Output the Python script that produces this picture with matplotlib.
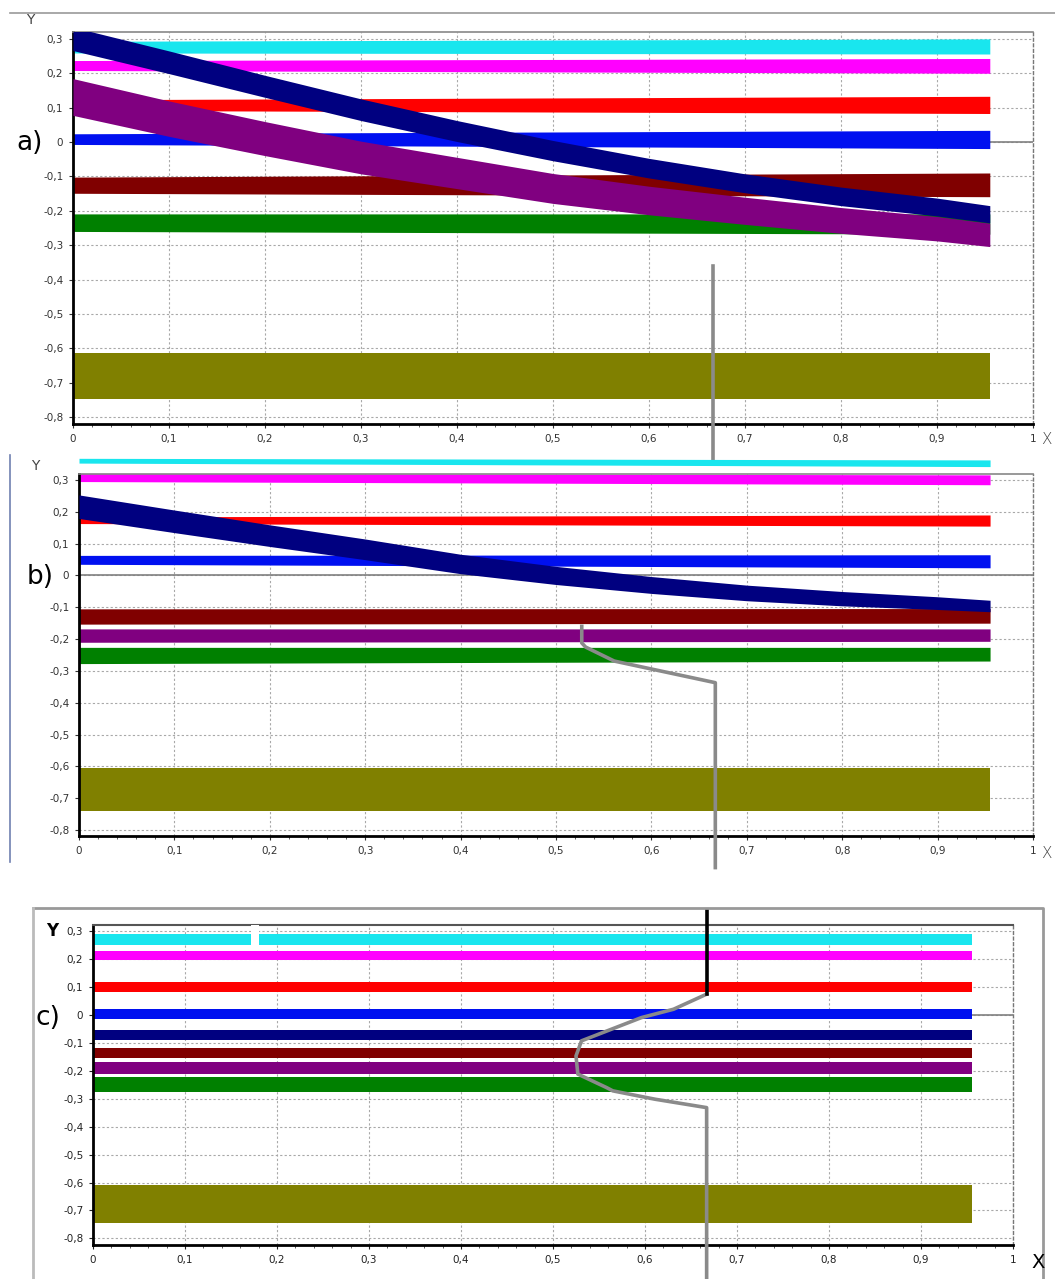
import numpy as np
import matplotlib
matplotlib.use("Agg")
import matplotlib.pyplot as plt
from matplotlib.ticker import MultipleLocator, FuncFormatter
from matplotlib.lines import Line2D

W, H = 1055, 1279

# ------------------------------------------------------------
# Data
# ------------------------------------------------------------
colors = {
    "cyan": "#19e6ee", "magenta": "#ff00ff", "red": "#ff0000", "blue": "#0010f0",
    "maroon": "#800000", "green": "#008000", "purple": "#800080",
    "navy": "#000080", "olive": "#808000",
}
band_end = 0.955

# horizontal bands: (colour, low_left, high_left, low_right, high_right)
bands_a = [
    ("cyan", 0.259, 0.293, 0.256, 0.300),
    ("magenta", 0.208, 0.237, 0.200, 0.243),
    ("red", 0.092, 0.123, 0.083, 0.133),
    ("blue", -0.007, 0.024, -0.019, 0.034),
    ("maroon", -0.149, -0.102, -0.159, -0.090),
    ("green", -0.260, -0.209, -0.268, -0.209),
    ("olive", -0.747, -0.613, -0.747, -0.613),
]
bands_b = [
    ("cyan", 0.353, 0.368, 0.342, 0.363),
    ("magenta", 0.295, 0.321, 0.285, 0.316),
    ("red", 0.163, 0.184, 0.155, 0.190),
    ("blue", 0.035, 0.063, 0.024, 0.065),
    ("maroon", -0.153, -0.105, -0.150, -0.104),
    ("purple", -0.210, -0.168, -0.207, -0.168),
    ("green", -0.277, -0.226, -0.269, -0.226),
    ("olive", -0.739, -0.606, -0.739, -0.606),
]
bands_c = [
    ("cyan", 0.251, 0.288, 0.251, 0.288),
    ("magenta", 0.197, 0.230, 0.197, 0.230),
    ("red", 0.080, 0.118, 0.080, 0.118),
    ("blue", -0.016, 0.020, -0.016, 0.020),
    ("navy", -0.091, -0.055, -0.091, -0.055),
    ("maroon", -0.156, -0.117, -0.156, -0.117),
    ("purple", -0.210, -0.168, -0.210, -0.168),
    ("green", -0.277, -0.224, -0.277, -0.224),
    ("olive", -0.746, -0.610, -0.746, -0.610),
]

# sloping bands (centre + thickness at knots)
knots = [0, 0.1, 0.2, 0.3, 0.4, 0.5, 0.6, 0.7, 0.8, 0.9, 0.955]
navy_a_mid = [0.300, 0.232, 0.162, 0.094, 0.032, -0.025, -0.076, -0.120, -0.158, -0.189, -0.210]
navy_a_w = [0.068, 0.066, 0.064, 0.063, 0.061, 0.059, 0.057, 0.055, 0.054, 0.052, 0.050]
purple_a_mid = [0.131, 0.068, 0.010, -0.045, -0.090, -0.135, -0.170, -0.200, -0.228, -0.252, -0.270]
purple_a_w = [0.107, 0.103, 0.099, 0.095, 0.091, 0.087, 0.083, 0.079, 0.075, 0.071, 0.068]
navy_b_mid = [0.216, 0.170, 0.125, 0.082, 0.036, 0.000, -0.030, -0.055, -0.073, -0.087, -0.096]
navy_b_w = [0.074, 0.071, 0.068, 0.065, 0.061, 0.057, 0.053, 0.049, 0.045, 0.040, 0.036]

# gray profile lines
prof_a_x = [0.667, 0.667]
prof_a_y = [-0.36, -0.925]
prof_b_x = [0.527, 0.527, 0.531, 0.561, 0.667, 0.667]
prof_b_y = [-0.160, -0.212, -0.225, -0.269, -0.337, -0.918]
prof_c_x = [0.667, 0.631, 0.596, 0.531, 0.525, 0.527, 0.558, 0.565, 0.611, 0.667, 0.667]
prof_c_y = [0.074, 0.020, -0.010, -0.093, -0.147, -0.212, -0.260, -0.272, -0.302, -0.332, -0.94]
black_c_x = [0.667, 0.667]
black_c_y = [0.375, 0.074]

y_ticks = [0.3, 0.2, 0.1, 0, -0.1, -0.2, -0.3, -0.4, -0.5, -0.6, -0.7, -0.8]
x_ticks = [0, 0.1, 0.2, 0.3, 0.4, 0.5, 0.6, 0.7, 0.8, 0.9, 1]


def comma(v, pos=None):
    v = round(v, 2)
    if v == 0:
        return "0"
    if v == 1:
        return "1"
    return ("%.1f" % v).replace(".", ",")


def px(x, y):
    return x / W, 1 - y / H


def setup(ax, ylim, label_color):
    ax.set_xlim(0, 1)
    ax.set_ylim(*ylim)
    ax.set_xticks(x_ticks)
    ax.set_yticks(y_ticks)
    ax.xaxis.set_major_formatter(FuncFormatter(comma))
    ax.yaxis.set_major_formatter(FuncFormatter(comma))
    ax.xaxis.set_minor_locator(MultipleLocator(0.02))
    ax.tick_params(labelsize=7.5, colors=label_color, length=3, width=0.8, pad=4)
    ax.tick_params(axis="x", which="minor", length=2, color="#444444")
    ax.grid(True, ls=(0, (2, 2)), color="#a8a8a8", lw=0.8)
    ax.set_axisbelow(True)
    for s in ("left", "bottom"):
        ax.spines[s].set_color("black")
        ax.spines[s].set_linewidth(2)
    ax.spines["top"].set_color("#888888")
    ax.spines["top"].set_linewidth(1.2)
    ax.spines["right"].set_color("#777777")
    ax.spines["right"].set_linestyle((0, (2, 2)))
    ax.spines["right"].set_linewidth(1)
    ax.axhline(0, color="#808080", lw=1.2, zorder=1)


def draw_bands(ax, bands, clip=True):
    for name, lo0, hi0, lo1, hi1 in bands:
        ax.fill_between([0, band_end], [lo0, lo1], [hi0, hi1], color=colors[name],
                        lw=0, zorder=2, clip_on=clip)


def draw_curve(ax, mid, wid, color):
    mid = np.array(mid)
    wid = np.array(wid)
    ax.fill_between(knots, mid - wid / 2, mid + wid / 2, color=colors[color], lw=0, zorder=3)


fig = plt.figure(figsize=(W / 100, H / 100), dpi=100)

# ------------------------------------------------------------
# a)
# ------------------------------------------------------------
ax_a = fig.add_axes([73 / W, 1 - 424 / H, 960 / W, 392 / H])
setup(ax_a, (-0.82, 0.32), "#333333")
draw_bands(ax_a, bands_a)
draw_curve(ax_a, purple_a_mid, purple_a_w, "purple")
draw_curve(ax_a, navy_a_mid, navy_a_w, "navy")
ax_a.plot(prof_a_x, prof_a_y, color="#8a8a8a", lw=2.6, zorder=6, clip_on=False)

# ------------------------------------------------------------
# b)
# ------------------------------------------------------------
ax_b = fig.add_axes([79 / W, 1 - 836.4 / H, 954 / W, 362.8 / H])
setup(ax_b, (-0.82, 0.32), "#333333")
draw_bands(ax_b, bands_b, clip=False)
draw_curve(ax_b, navy_b_mid, navy_b_w, "navy")
ax_b.plot(prof_b_x, prof_b_y, color="#8a8a8a", lw=2.6, zorder=6, clip_on=False)

# ------------------------------------------------------------
# c)
# ------------------------------------------------------------
ax_c = fig.add_axes([93 / W, 1 - 1245.4 / H, 920 / W, 320 / H])
setup(ax_c, (-0.825, 0.32), "#222222")
ax_c.spines["top"].set_color("#555555")
ax_c.spines["top"].set_linewidth(1.5)
draw_bands(ax_c, bands_c)
# small white notch in the cyan band
ax_c.axvspan(0.172, 0.18, ymin=0.935, ymax=1.0, color="white", zorder=4, lw=0)
ax_c.plot(prof_c_x, prof_c_y, color="#8a8a8a", lw=2.6, zorder=6, clip_on=False)
ax_c.plot(black_c_x, black_c_y, color="black", lw=2.6, zorder=7, clip_on=False)

# ------------------------------------------------------------
# window decorations and labels
# ------------------------------------------------------------
fig.add_artist(Line2D([10 / W, 1], [1 - 13 / H] * 2, color="#999999", lw=1.2))
fig.add_artist(Line2D([10 / W] * 2, [1 - 455 / H, 1 - 862 / H], color="#7080b0", lw=1.2))
fig.add_artist(Line2D([33 / W, 1043 / W, 1043 / W], [1 - 908 / H, 1 - 908 / H, 0],
                      color="#999999", lw=2))
fig.add_artist(Line2D([33 / W, 33 / W], [0, 1 - 908 / H], color="#bbbbbb", lw=2))

fig.text(*px(30, 20), "Y", fontsize=10, color="#444444", ha="center", va="center")
fig.text(*px(35, 466), "Y", fontsize=10, color="#444444", ha="center", va="center")
fig.text(*px(52, 931), "Y", fontsize=12, color="black", fontweight="bold", ha="center", va="center")
fig.text(*px(1046, 440), "X", fontsize=11, color="#444444", ha="center", va="center", fontweight="light")
fig.text(*px(1046, 853), "X", fontsize=11, color="#444444", ha="center", va="center", fontweight="light")
fig.text(*px(1038, 1262), "X", fontsize=14, color="black", ha="center", va="center")

fig.text(*px(30, 143), "a)", fontsize=19, ha="center", va="center")
fig.text(*px(40, 577), "b)", fontsize=19, ha="center", va="center")
fig.text(*px(48, 1018), "c)", fontsize=19, ha="center", va="center")

fig.savefig("out.png", dpi=100)
